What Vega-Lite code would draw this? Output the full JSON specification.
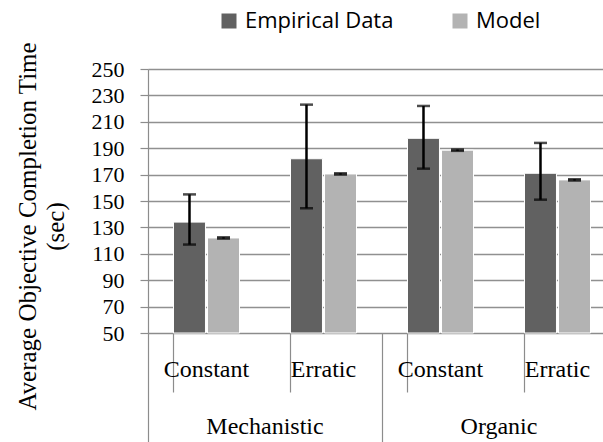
{
  "$schema": "https://vega.github.io/schema/vega-lite/v6.json",
  "width": 455,
  "height": 264,
  "autosize": {"type": "none"},
  "padding": {"left": 148, "top": 69, "right": 0, "bottom": 109},
  "background": "white",
  "config": {"view": {"stroke": null}},
  "data": {"values": [
    {"group": "Mechanistic", "cat": "Mechanistic|Constant", "series": "Empirical Data", "value": 134, "lo": 117, "hi": 155},
    {"group": "Mechanistic", "cat": "Mechanistic|Constant", "series": "Model", "value": 122, "lo": 121.5, "hi": 122.5},
    {"group": "Mechanistic", "cat": "Mechanistic|Erratic", "series": "Empirical Data", "value": 182, "lo": 144.5, "hi": 223},
    {"group": "Mechanistic", "cat": "Mechanistic|Erratic", "series": "Model", "value": 170.5, "lo": 170, "hi": 171},
    {"group": "Organic", "cat": "Organic|Constant", "series": "Empirical Data", "value": 197.5, "lo": 174.5, "hi": 222},
    {"group": "Organic", "cat": "Organic|Constant", "series": "Model", "value": 188.5, "lo": 188, "hi": 189},
    {"group": "Organic", "cat": "Organic|Erratic", "series": "Empirical Data", "value": 171, "lo": 151, "hi": 194},
    {"group": "Organic", "cat": "Organic|Erratic", "series": "Model", "value": 166, "lo": 165.5, "hi": 166.5}
  ]},
  "layer": [
    {
      "encoding": {
        "x": {
          "field": "cat", "type": "nominal",
          "sort": ["Mechanistic|Constant", "Mechanistic|Erratic", "Organic|Constant", "Organic|Erratic"],
          "scale": {"type": "band", "range": [0, 468], "paddingInner": 0.436, "paddingOuter": 0.218},
          "axis": {
            "orient": "bottom", "title": null, "labelAngle": 0,
            "labelExpr": "split(datum.label, '|')[1]",
            "bandPosition": 0, "tickSize": 59, "tickColor": "#8c8c8c", "tickWidth": 1.2,
            "domainColor": "#8c8c8c", "domainWidth": 1.2,
            "labelFont": "Liberation Serif", "labelFontSize": 24, "labelColor": "black",
            "labelPadding": -34.5, "grid": false
          }
        },
        "xOffset": {
          "field": "series", "type": "nominal", "sort": ["Empirical Data", "Model"],
          "scale": {"paddingInner": 0.06, "paddingOuter": 0}
        },
        "y": {
          "type": "quantitative",
          "scale": {"domain": [50, 250], "nice": false, "zero": false},
          "axis": {
            "values": [50, 70, 90, 110, 130, 150, 170, 190, 210, 230, 250],
            "title": ["Average Objective Completion Time", "(sec)"],
            "titleFont": "Liberation Serif", "titleFontSize": 25, "titleFontWeight": "normal",
            "titleColor": "black", "titlePadding": 23, "titleLineHeight": 28, "titleY": 157,
            "labelFont": "Liberation Serif", "labelFontSize": 22, "labelColor": "black",
            "labelPadding": 16, "tickSize": 8, "tickColor": "#8c8c8c", "tickWidth": 1.2,
            "domainColor": "#8c8c8c", "domainWidth": 1.2,
            "grid": true, "gridColor": "#909090", "gridWidth": 1.5
          }
        }
      },
      "layer": [
        {
          "mark": {"type": "bar", "stroke": "white", "strokeWidth": 1},
          "encoding": {
            "y": {"field": "value", "type": "quantitative"},
            "y2": {"datum": 50},
            "color": {
              "field": "series", "type": "nominal",
              "scale": {"domain": ["Empirical Data", "Model"], "range": ["#616161", "#b3b3b3"]},
              "legend": {
                "title": null, "orient": "none", "direction": "horizontal",
                "legendX": 70, "legendY": -59,
                "symbolType": "square", "symbolSize": 225, "symbolStrokeWidth": 0,
                "labelFont": "Open Sans", "labelFontSize": 22, "labelColor": "black",
                "labelOffset": 5, "columnPadding": 55
              }
            }
          }
        },
        {
          "mark": {"type": "rule", "color": "black", "strokeWidth": 2.5},
          "encoding": {
            "y": {"field": "lo", "type": "quantitative"},
            "y2": {"field": "hi"}
          }
        },
        {
          "mark": {"type": "tick", "color": "black", "thickness": 2.5, "size": 13},
          "encoding": {"y": {"field": "lo", "type": "quantitative"}}
        },
        {
          "mark": {"type": "tick", "color": "black", "thickness": 2.5, "size": 13},
          "encoding": {"y": {"field": "hi", "type": "quantitative"}}
        }
      ]
    },
    {
      "mark": {"type": "text", "text": "", "opacity": 0},
      "encoding": {
        "x": {
          "field": "group", "type": "nominal", "sort": ["Mechanistic", "Organic"],
          "scale": {"type": "band", "range": [0, 468], "paddingInner": 0, "paddingOuter": 0},
          "axis": {
            "orient": "bottom", "title": null, "labelAngle": 0, "domain": false,
            "bandPosition": 0, "tickSize": 110, "tickColor": "#8c8c8c", "tickWidth": 1.2,
            "labelFont": "Liberation Serif", "labelFontSize": 24, "labelColor": "black",
            "labelPadding": -28.5, "grid": false
          }
        }
      }
    }
  ],
  "resolve": {"scale": {"x": "independent"}}
}
